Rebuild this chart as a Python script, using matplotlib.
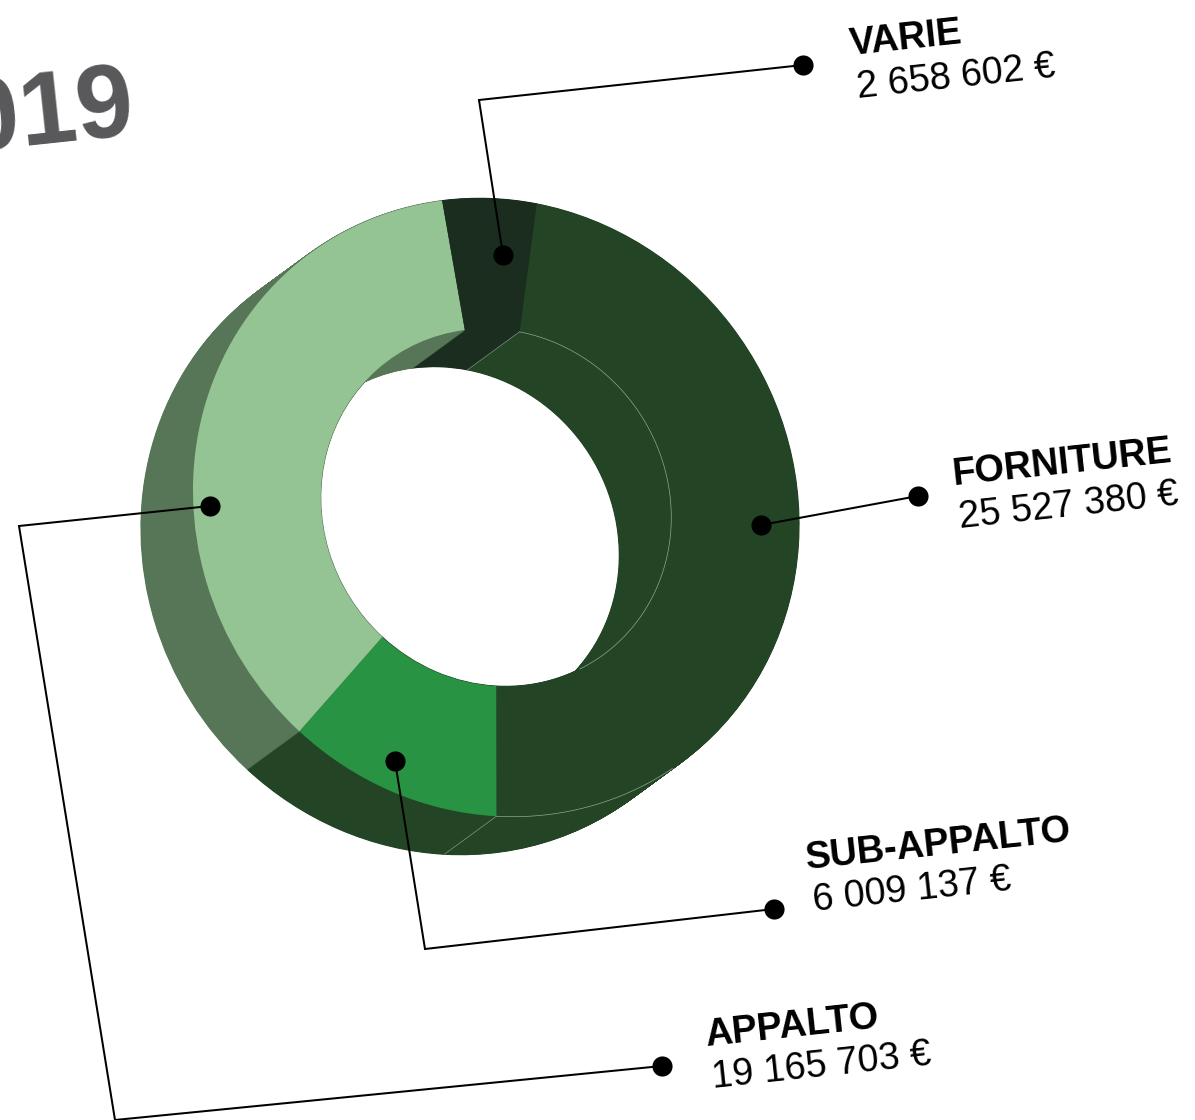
import numpy as np
import matplotlib
matplotlib.use('Agg')
import matplotlib.pyplot as plt
from matplotlib.transforms import Affine2D

# data (same clockwise order as the ring)
categories = ['FORNITURE', 'SUB-APPALTO', 'APPALTO', 'VARIE']
values = [25527380, 6009137, 19165703, 2658602]
value_labels = ['25 527 380 €', '6 009 137 €', '19 165 703 €', '2 658 602 €']
year_label = '2019'

top_colors = ['#234425', '#299344', '#94c493', '#1b2d1f']
side_colors = ['#234425', '#234425', '#577657', '#1b2d1f']

W, H = 1195, 1120
cx, cy = 496, H - 507.5
R = 306
r = 177
dx, dy = -52, -38
tilt = 6.1
start = 80.7
# the ring is seen in perspective: slightly squashed along a slanted axis
long_axis, short_axis, axis_angle = 315, 297, 125


def Y(py):
    return H - py


def squash(x0, y0):
    return (Affine2D().translate(-x0, -y0).rotate_deg(-axis_angle)
            .scale(long_axis / R, short_axis / R).rotate_deg(axis_angle).translate(x0, y0))


def draw_ring(colors, x0, y0, lw):
    wedges, _ = ax.pie(values, colors=colors, radius=R, startangle=start, counterclock=False,
                       center=(x0, y0), frame=True, wedgeprops={'width': R - r, 'linewidth': lw})
    for w in wedges:
        w.set_edgecolor(w.get_facecolor())
        w.set_transform(squash(x0, y0) + ax.transData)


def ring_line(rad, a1, a2, color, off=(0, 0)):
    ang = np.radians(np.linspace(a1, a2, 120))
    pts = np.column_stack([cx + rad * np.cos(ang), cy + rad * np.sin(ang)])
    pts = squash(cx, cy).transform(pts)
    ax.plot(pts[:, 0] + off[0], pts[:, 1] + off[1], color=color, lw=0.5, zorder=5)


fig = plt.figure(figsize=(W / 100, H / 100), dpi=100)
ax = fig.add_axes([0, 0, 1, 1])

# extrusion: sweep the ring from the back copy up to the front
for t in np.linspace(1, 0, 90):
    draw_ring(side_colors, cx + t * dx, cy + t * dy, 0.8)

# front face
draw_ring(top_colors, cx, cy, 0)

# thin light seams around the FORNITURE segment
a0 = start - 360 * values[0] / sum(values)
ring_line(r, 297, 360 + start, '#8fa88f')
ring_line(R, a0, -56, '#8fa88f')
for ang, rad in ((a0, R), (start, r)):
    p = squash(cx, cy).transform([[cx + rad * np.cos(np.radians(ang)), cy + rad * np.sin(np.radians(ang))]])[0]
    ax.plot([p[0], p[0] + dx], [p[1], p[1] + dy], color='#7f9a80', lw=0.5, zorder=5)

ax.set_xlim(0, W)
ax.set_ylim(0, H)
ax.axis('off')

# leader lines
leaders = [
    [(761, 525), (918, 496)],
    [(395, 761), (425, 949), (774, 909)],
    [(210, 506), (19, 526), (115, 1120), (662, 1066)],
    [(503, 255), (479, 100), (803, 65)],
]
for pts in leaders:
    xs = [p[0] for p in pts]
    ys = [Y(p[1]) for p in pts]
    ax.plot(xs, ys, color='black', lw=1.45, zorder=6, solid_joinstyle='miter')
    ax.plot([xs[0], xs[-1]], [ys[0], ys[-1]], 'o', color='black', ms=14.5, mew=0, zorder=7)

# labels
name_pos = [(954, 485), (807, 869), (706, 1046), (851, 55)]
value_pos = [(960, 528), (814, 911), (713, 1088), (858, 98)]
for name, val, np_, vp in zip(categories, value_labels, name_pos, value_pos):
    ax.text(np_[0], Y(np_[1]), name, fontsize=27.3, fontweight='bold', color='black',
            family=['Liberation Sans', 'DejaVu Sans'], rotation=tilt, rotation_mode='anchor',
            ha='left', va='baseline')
    ax.text(vp[0], Y(vp[1]), val, fontsize=27.2, color='black',
            family=['Liberation Sans', 'DejaVu Sans'], rotation=tilt, rotation_mode='anchor',
            ha='left', va='baseline')

ax.text(137, Y(134), year_label, fontsize=74, fontweight='bold', color='#58585a',
        family=['Liberation Sans Narrow', 'Liberation Sans', 'DejaVu Sans'], rotation=tilt,
        rotation_mode='anchor', ha='right', va='baseline')

fig.savefig('out.png', dpi=100, facecolor='white')
